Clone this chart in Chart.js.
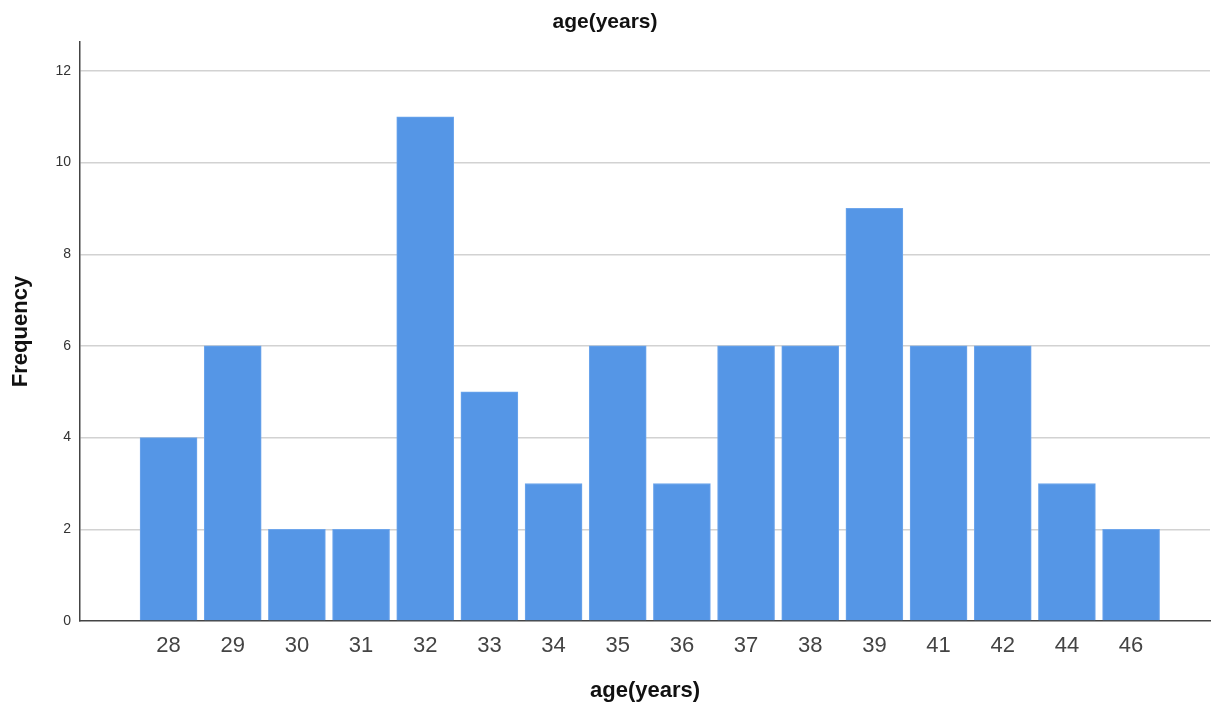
<!DOCTYPE html>
<html>
<head>
<meta charset="utf-8">
<script src="https://cdn.jsdelivr.net/npm/chart.js@4"></script>
<style>
  html, body { margin: 0; padding: 0; background: #fff; }
  #wrap { width: 1212px; height: 707px; }
</style>
</head>
<body>
<div id="wrap"><canvas id="chart"></canvas></div>
<script>
const ages = ['28', '29', '30', '31', '32', '33', '34', '35', '36', '37', '38', '39', '41', '42', '44', '46'];
const frequency = [4, 6, 2, 2, 11, 5, 3, 6, 3, 6, 6, 9, 6, 6, 3, 2];
const yTicks = [0, 2, 4, 6, 8, 10, 12];

const fontFamily = 'Arial, "Liberation Sans", sans-serif';

// bars sit on index positions of a linear axis so the empty margins left/right match
const points = frequency.map((v, i) => ({ x: i, y: v }));

const ctx = document.getElementById('chart');
new Chart(ctx, {
  type: 'bar',
  data: {
    datasets: [{
      label: 'Frequency',
      data: points,
      backgroundColor: '#5596e6',
      borderColor: '#6ea6ec',
      borderWidth: 1,
      barThickness: 57
    }]
  },
  options: {
    responsive: true,
    maintainAspectRatio: false,
    animation: false,
    layout: { padding: { top: 0, right: 2, bottom: 0, left: 0 } },
    plugins: {
      legend: { display: false },
      tooltip: { enabled: false },
      title: {
        display: true,
        text: 'age(years)',
        color: '#111',
        font: { family: fontFamily, size: 21, weight: 'bold' },
        padding: { top: 9.4, bottom: 7.4 }
      }
    },
    scales: {
      x: {
        type: 'linear',
        offset: false,
        min: -1.38,
        max: 16.23,
        grid: { display: false, drawTicks: false },
        border: { display: true, color: '#444', width: 1.5 },
        ticks: {
          stepSize: 1,
          includeBounds: false,
          autoSkip: false,
          maxRotation: 0,
          padding: 12,
          color: '#444',
          font: { family: fontFamily, size: 22 },
          callback: (v) => (ages[v] !== undefined ? ages[v] : '')
        },
        title: {
          display: true,
          text: 'age(years)',
          color: '#111',
          font: { family: fontFamily, size: 22, weight: 'bold' },
          padding: { top: 0, bottom: 3 }
        },
        afterFit: (scale) => { scale.height = 86; }
      },
      y: {
        min: 0,
        max: 12.63,
        grid: {
          drawTicks: false,
          lineWidth: 1.5,
          color: (c) => (c.tick && c.tick.value === 0 ? 'rgba(0,0,0,0)' : '#d2d2d2')
        },
        border: { display: true, color: '#444', width: 1.5 },
        afterBuildTicks: (scale) => { scale.ticks = yTicks.map(v => ({ value: v })); },
        ticks: {
          padding: 9,
          color: '#333',
          font: { family: fontFamily, size: 14 }
        },
        title: {
          display: true,
          text: 'Frequency',
          color: '#111',
          font: { family: fontFamily, size: 22, weight: 'bold' },
          padding: { top: 8, bottom: 0 }
        },
        afterFit: (scale) => { scale.width = 80; }
      }
    }
  }
});
</script>
</body>
</html>
